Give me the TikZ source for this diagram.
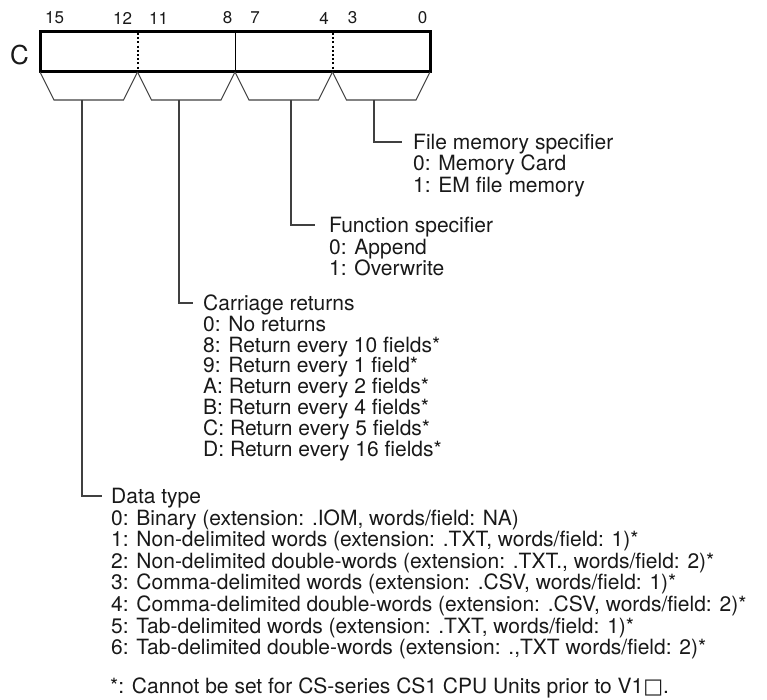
\documentclass[tikz,border=0pt]{standalone}
\usepackage{fontspec}
\setmainfont{TeX Gyre Heros}
\newfontfamily\symfont{DejaVu Sans}
\usetikzlibrary{calc}

\begin{document}
\begin{tikzpicture}[x=1pt,y=-1pt,
  txt/.style={anchor=west,inner sep=0pt,text height=15pt,text depth=0pt,text=black!90,font=\fontsize{21}{21}\selectfont},
  bitno/.style={inner sep=0pt,text=black!90,font=\fontsize{17}{17}\selectfont},
  lead/.style={line width=1.1pt,black!75}]
\useasboundingbox (0,0) rectangle (767,700);
% register C and its bit numbers
\node[inner sep=0pt,text=black!90,font=\fontsize{26}{26}\selectfont] (reg) at (19.5,55) {C};
\foreach \n/\x in {15/54.5,12/122.5,11/158.5,8/227.5,7/255,4/324,3/352.5,0/422.5}
  \node[bitno] (b\n) at (\x,18) {\n};
\draw[line width=1pt] (235,32) -- (235,72);
\draw[line width=2pt,dash pattern=on 2pt off 2.2pt] (137.5,33) -- (137.5,71) (332.5,33) -- (332.5,71);
\draw[line width=3pt] (40,32) rectangle (430,72);
% one brace per digit
\foreach \i in {0,...,3}
  \draw[lead] ($(40,72)+(\i*97.5,0)$) -- ++(14,28) -- ++(69.5,0) -- ++(14,-28);
\foreach \x/\n in {82/dt,179/cr,291/fn,374/fm}
  \coordinate (\n-top) at (\x,100);

% file memory specifier
\node[txt] (fm) at (413,142) {File memory specifier};
\foreach \t [count=\k] in {{0: Memory Card},{1: EM file memory}}
  \node[txt] (fm-\k) at (413,142+21.5*\k) {\t};
% function specifier
\node[txt] (fn) at (329,225) {Function specifier};
\foreach \t [count=\k] in {{0: Append},{1: Overwrite}}
  \node[txt] (fn-\k) at (329,225+21.7*\k) {\t};
% carriage returns
\node[txt] (cr) at (203,303) {Carriage returns};
\foreach \t [count=\k] in {{0: No returns},{8: Return every 10 fields*},{9: Return every 1 field*},
  {A: Return every 2 fields*},{B: Return every 4 fields*},{C: Return every 5 fields*},{D: Return every 16 fields*}}
  \node[txt] (cr-\k) at (203,303+20.8*\k) {\t};
% data type
\node[txt] (dt) at (111,496) {Data type};
\foreach \t [count=\k] in {{0: Binary (extension: .IOM, words/field: NA)},
  {1: Non-delimited words (extension: .TXT, words/field: 1)*},
  {2: Non-delimited double-words (extension: .TXT., words/field: 2)*},
  {3: Comma-delimited words (extension: .CSV, words/field: 1)*},
  {4: Comma-delimited double-words (extension: .CSV, words/field: 2)*},
  {5: Tab-delimited words (extension: .TXT, words/field: 1)*},
  {6: Tab-delimited double-words (extension: .,TXT words/field: 2)*}}
  \node[txt] (dt-\k) at (111,496+21.6*\k) {\t};
\node[txt] (note) at (110,686) {*: Cannot be set for CS-series CS1 CPU Units prior to V1{\symfont □}.};

% leads from the braces to the texts
\foreach \n/\g in {fm/11,fn/14,cr/10,dt/9}
{ \coordinate (\n-in) at ([xshift=-\g pt]\n.west);
  \draw[lead] (\n-top) |- (\n-in); }
\end{tikzpicture}
\end{document}
